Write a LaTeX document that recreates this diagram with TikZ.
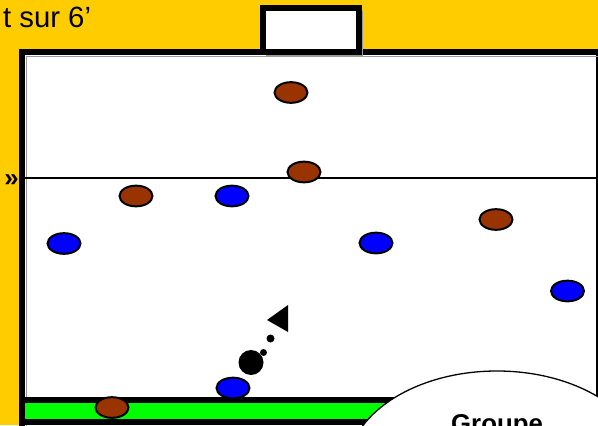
\documentclass[tikz,border=0pt]{standalone}
\usepackage{fontspec}
\setmainfont{Liberation Sans}
\usetikzlibrary{shapes.geometric}
\definecolor{Fond}{RGB}{255,204,0}
\definecolor{Brun}{RGB}{153,51,0}
\definecolor{Bleu}{RGB}{0,0,255}
\definecolor{Vert}{RGB}{0,255,0}
\tikzset{
  joueur/.style={ellipse,draw=black,line width=1.7pt,minimum width=0.99cm,
                 minimum height=0.62cm,inner sep=0pt},
  brun/.style={joueur,fill=Brun},
  bleu/.style={joueur,fill=Bleu},
  ballon/.style={circle,fill=black,minimum size=0.75cm,inner sep=0pt},
  trace/.style={circle,fill=black,inner sep=0pt},
  bord/.style={draw=black,line width=5.1pt},
  bulle/.style={ellipse,draw=black,fill=white,line width=1.1pt,
                minimum width=9cm,minimum height=5.94cm},
}

\begin{document}
\begin{tikzpicture}[x=0.03cm,y=-0.03cm]
  \useasboundingbox (0,0) rectangle (598,425);
  \clip (0,0) rectangle (598,425);
  \fill[Fond] (0,0) rectangle (598,425);

  % terrain
  \draw[bord,fill=white] (22,52) rectangle (599,450);
  \draw[black!40,line width=0.8pt] (26,450) |- (599,56);
  \draw[bord,fill=Vert] (22,400) rectangle (599,422);
  \draw[line width=1.7pt] (25,178) -- (597,178);

  % but
  \fill[black!40] (266,11) rectangle (363,57);
  \draw[bord,fill=white] (263,8) rectangle (359,52);

  \node[anchor=base west,font=\fontsize{25}{29}\selectfont] (titre) at (-1,28) {t sur 6’};
  \node[anchor=east,font=\bfseries\fontsize{22}{24}\selectfont,inner sep=1pt] (renvoi) at (20,181) {»};

  % joueurs
  \node[brun] (b1) at (291,92.5) {};
  \node[brun] (b2) at (304,172) {};
  \node[brun] (b3) at (136,196) {};
  \node[brun] (b4) at (496,219.5) {};
  \node[brun] (b5) at (112,407.5) {};
  \node[bleu] (a1) at (232,196) {};
  \node[bleu] (a2) at (64,243.5) {};
  \node[bleu] (a3) at (376,243) {};
  \node[bleu] (a4) at (567.5,291) {};
  \node[bleu] (a5) at (233,388) {};

  % ballon et passe
  \node[ballon] (ballon) at (251,362.5) {};
  \node[trace,minimum size=0.21cm] (t1) at (263.5,352.5) {};
  \node[trace,minimum size=0.24cm] (t2) at (270.5,338.5) {};
  \fill (267,320) -- (288,305) -- (288,332) -- cycle;

  \node[bulle] (bulle) at (497,470) {};
  \node[font=\bfseries\fontsize{22}{26}\selectfont,anchor=base] (groupe) at (497,432) {Groupe};
\end{tikzpicture}
\end{document}
